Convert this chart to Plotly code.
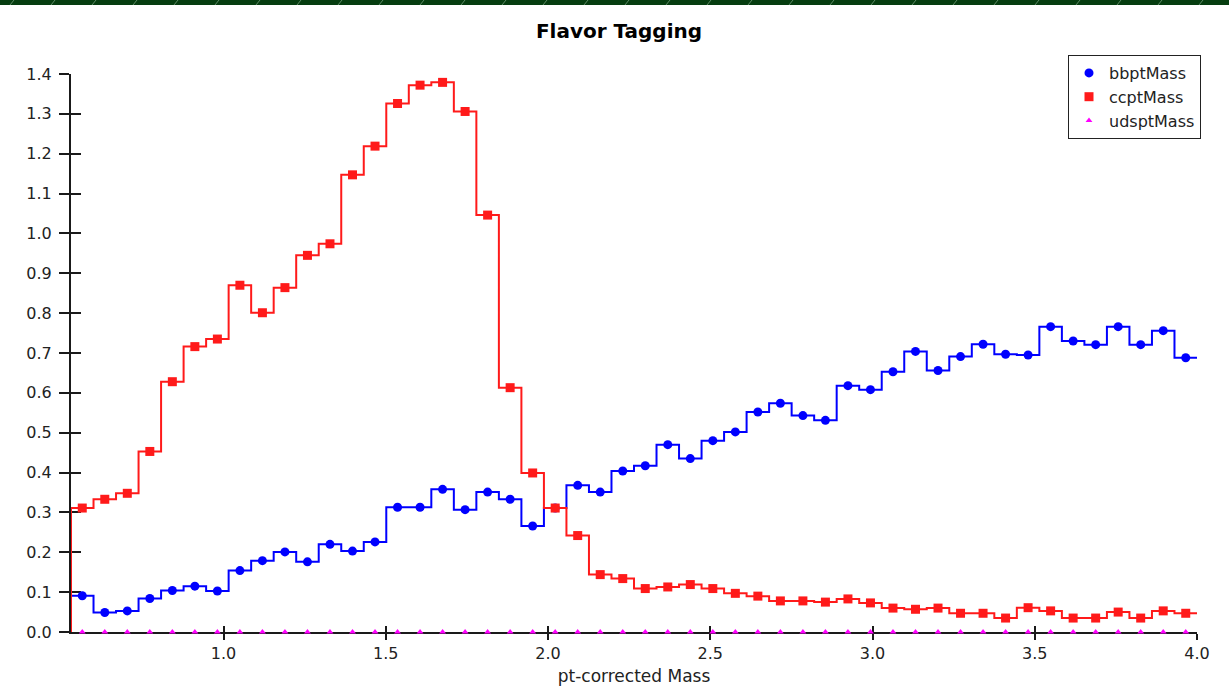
import numpy as np
import plotly.graph_objects as go

# ---------------- data ----------------
BIN_LO, BIN_HI, N_BINS = 0.53, 4.0, 50

bb_values = [0.091, 0.049, 0.053, 0.084, 0.104, 0.115, 0.103, 0.154, 0.179, 0.201,
             0.176, 0.220, 0.203, 0.226, 0.313, 0.313, 0.358, 0.307, 0.351, 0.333,
             0.266, 0.311, 0.368, 0.351, 0.404, 0.417, 0.470, 0.435, 0.480, 0.502,
             0.552, 0.574, 0.543, 0.531, 0.618, 0.608, 0.653, 0.704, 0.656, 0.691,
             0.722, 0.697, 0.695, 0.766, 0.730, 0.721, 0.766, 0.721, 0.756, 0.688]

cc_values = [0.311, 0.333, 0.348, 0.453, 0.628, 0.716, 0.735, 0.870, 0.801, 0.864,
             0.945, 0.974, 1.147, 1.219, 1.326, 1.372, 1.379, 1.306, 1.046, 0.613,
             0.399, 0.311, 0.242, 0.144, 0.134, 0.109, 0.113, 0.119, 0.109, 0.097,
             0.090, 0.078, 0.078, 0.075, 0.083, 0.073, 0.060, 0.057, 0.060, 0.047,
             0.047, 0.035, 0.061, 0.053, 0.035, 0.035, 0.050, 0.035, 0.053, 0.047]

uds_values = [0.0, 0.0, 0.0, 0.0, 0.0, 0.0, 0.0, 0.0, 0.0, 0.0,
              0.0, 0.0, 0.0, 0.0, 0.0, 0.0, 0.0, 0.0, 0.0, 0.0,
              0.0, 0.0, 0.0, 0.0, 0.0, 0.0, 0.0, 0.0, 0.0, 0.0,
              0.0, 0.0, 0.0, 0.0, 0.0, 0.0, 0.0, 0.0, 0.0, 0.0,
              0.0, 0.0, 0.0, 0.0, 0.0, 0.0, 0.0, 0.0, 0.0, 0.0]

series_names = ["bbptMass", "ccptMass", "udsptMass"]
x_title = "pt-corrected Mass"
chart_title = "Flavor Tagging"
X_RANGE = [BIN_LO, BIN_HI]
Y_RANGE = [0.0, 1.4]

# ---------------- geometry ----------------
edges = np.linspace(BIN_LO, BIN_HI, N_BINS + 1)
centers = 0.5 * (edges[:-1] + edges[1:])

W, H = 1229, 700
ML, MR, MT, MB = 71, 32, 74, 68
PW, PH = W - ML - MR, H - MT - MB

def px_x(px):
    return (px - ML) / PW

def px_y(py):
    return (H - MB - py) / PH

BLUE = "#0000ff"
RED = "#ff1a1a"
MAG = "#ff00ff"
FONT = "DejaVu Sans"

fig = go.Figure()

# udsp (magenta) markers
fig.add_trace(go.Scatter(x=centers, y=uds_values, mode="markers", name=series_names[2],
                         marker=dict(symbol="triangle-up", size=6, color=MAG),
                         legendgroup="c", legendrank=3, cliponaxis=False))

# bb step line + markers
fig.add_trace(go.Scatter(x=edges, y=list(bb_values) + [bb_values[-1]], mode="lines",
                         line=dict(shape="hv", color=BLUE, width=2),
                         showlegend=False, hoverinfo="skip"))
fig.add_trace(go.Scatter(x=centers, y=bb_values, mode="markers", name=series_names[0],
                         marker=dict(symbol="circle", size=9, color=BLUE),
                         legendgroup="a", legendrank=1))

# cc step line + markers (starts from zero at the first edge)
fig.add_trace(go.Scatter(x=[edges[0]] + list(edges), y=[0.0] + list(cc_values) + [cc_values[-1]],
                         mode="lines", line=dict(shape="hv", color=RED, width=2),
                         showlegend=False, hoverinfo="skip", cliponaxis=False))
fig.add_trace(go.Scatter(x=centers, y=cc_values, mode="markers", name=series_names[1],
                         marker=dict(symbol="square", size=9, color=RED),
                         legendgroup="b", legendrank=2))

# dummy trace for the overlay (inside-tick) axes
fig.add_trace(go.Scatter(x=[], y=[], xaxis="x2", yaxis="y2", showlegend=False))

# top green banner with light diagonal stripes
shapes = [dict(type="rect", xref="paper", yref="paper",
               x0=px_x(0), x1=px_x(W), y0=px_y(5), y1=px_y(0),
               fillcolor="#063d10", line=dict(width=0), layer="above")]
for sx in range(10, W, 41):
    shapes.append(dict(type="line", xref="paper", yref="paper",
                       x0=px_x(sx), x1=px_x(sx + 4), y0=px_y(5), y1=px_y(0),
                       line=dict(color="#5f8a66", width=1), layer="above"))

axis_col = "#1a1a1a"
tick_font = dict(family=FONT, size=16, color="#222222")

fig.update_layout(
    width=W, height=H,
    margin=dict(l=ML, r=MR, t=MT, b=MB, pad=0),
    paper_bgcolor="white", plot_bgcolor="white",
    title=dict(text=chart_title, x=px_x(619), xref="paper", xanchor="center",
               y=1 - 31 / H, yref="container", yanchor="middle",
               font=dict(family=FONT, size=20, color="black", weight="bold")),
    xaxis=dict(range=X_RANGE, showgrid=False, zeroline=False,
               showline=True, linecolor=axis_col, linewidth=2,
               ticks="outside", ticklen=6, tickwidth=1.5, tickcolor=axis_col,
               tick0=0.5, dtick=0.5, tickformat=".1f", tickfont=tick_font,
               layer="below traces",
               title=dict(text=x_title, standoff=8,
                          font=dict(family=FONT, size=17, color="#222222"))),
    yaxis=dict(range=Y_RANGE, showgrid=False, zeroline=False,
               showline=True, linecolor=axis_col, linewidth=2,
               ticks="outside", ticklen=10, tickwidth=1.5, tickcolor=axis_col,
               tick0=0, dtick=0.1, tickformat=".1f", tickfont=tick_font,
               ticklabelstandoff=4, layer="below traces"),
    xaxis2=dict(range=X_RANGE, overlaying="x", anchor="y2", side="bottom",
                showgrid=False, zeroline=False, showline=False,
                ticks="inside", ticklen=6, tickwidth=1.5, tickcolor=axis_col,
                tick0=0.5, dtick=0.5, showticklabels=False, layer="below traces"),
    yaxis2=dict(range=Y_RANGE, overlaying="y", anchor="x2", side="left",
                showgrid=False, zeroline=False, showline=False,
                ticks="inside", ticklen=10, tickwidth=1.5, tickcolor=axis_col,
                tick0=0, dtick=0.1, showticklabels=False, layer="below traces"),
    legend=dict(xref="paper", x=px_x(1068), xanchor="left",
                yref="paper", y=px_y(55), yanchor="top",
                bgcolor="white", bordercolor="#222222", borderwidth=1,
                font=dict(family=FONT, size=16, color="#222222"),
                tracegroupgap=0, traceorder="normal"),
    shapes=shapes,
    showlegend=True,
)

fig.write_html("out.html")
